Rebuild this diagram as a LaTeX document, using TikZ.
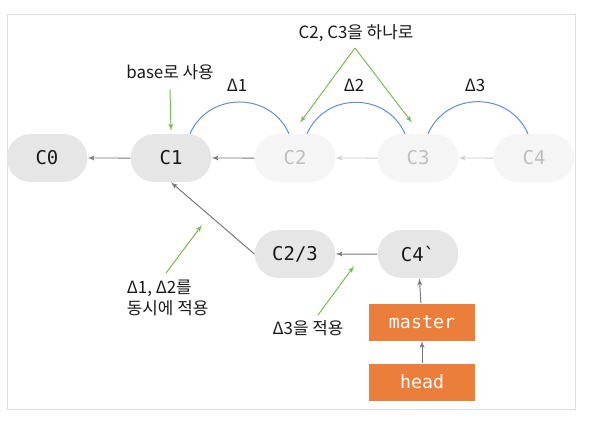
\documentclass[tikz,border=0pt]{standalone}
\usepackage{fontspec}
\setmainfont{Noto Sans CJK KR}
\setmonofont{DejaVu Sans Mono}
\usepackage{tikz}
\usetikzlibrary{shapes,arrows}
\definecolor{commitgray}{RGB}{230,230,230}
\definecolor{ghostgray}{RGB}{245,245,245}
\definecolor{ghosttext}{RGB}{190,190,190}
\definecolor{ghostline}{RGB}{205,205,205}
\definecolor{linegray}{RGB}{120,120,120}
\definecolor{deltablue}{RGB}{95,140,220}
\definecolor{notegreen}{RGB}{122,186,82}
\definecolor{branchorange}{RGB}{236,126,60}
\definecolor{framegray}{RGB}{222,222,222}
\tikzstyle{commit} = [rounded rectangle, minimum width=2.25cm, minimum height=1.2cm, fill=commitgray, text=black!90, font=\fontsize{13.5}{15}\selectfont\ttfamily]
\tikzstyle{ghost} = [commit, fill=ghostgray, text=ghosttext]
\tikzstyle{branch} = [rectangle, minimum width=2.65cm, minimum height=0.925cm, fill=branchorange, text=white, font=\fontsize{13}{15}\selectfont\ttfamily]
\tikzstyle{line} = [draw, -latex', linegray, line width=0.7pt]
\tikzstyle{fadeline} = [line, ghostline]
\tikzstyle{hint} = [draw, -latex', notegreen, line width=0.7pt]
\tikzstyle{delta} = [draw, deltablue, line width=0.7pt]
\tikzstyle{note} = [text=black!90, font=\fontsize{12}{14.5}\selectfont]

\begin{document}
\begin{tikzpicture}
        \useasboundingbox (0,0) rectangle (14.9,-10.525);
        \draw[framegray, line width=0.6pt] (0.175,-0.35) rectangle (14.375,-10.225);

        \node (C0) [commit] at (1.175,-3.95) {C0};
        \node (C1) [commit] at (4.275,-3.95) {C1};
        \node (C2) [ghost] at (7.375,-3.95) {C2};
        \node (C3) [ghost] at (10.45,-3.95) {C3};
        \node (C4) [ghost] at (13.35,-3.95) {C4};

        \draw[line] (C1) -- (C0);
        \draw[line] (C2) -- (C1);
        \draw[fadeline] (C3) -- (C2);
        \draw[fadeline] (C4) -- (C3);

        \node (C23) [commit] at (7.375,-6.35) {C2/3};
        \node (C4p) [commit] at (10.45,-6.35) {C4\textasciigrave};
        \node (master) [branch] at (10.55,-8.05) {master};
        \node (head) [branch] at (10.55,-9.55) {head};

        \draw[line] (C23.west) -- (C1.south);
        \draw[line] (C4p) -- (C23);
        \draw[line] (master) -- (C4p);
        \draw[line] (head) -- (master);

        % deltas between commits
        \draw[delta] ([xshift=0.475cm]C1.north) to[out=66, in=114, looseness=1.2] ([xshift=-0.15cm]C2.north);
        \draw[delta] ([xshift=0.3cm]C2.north) to[out=66, in=114, looseness=1.2] ([xshift=-0.325cm]C3.north);
        \draw[delta] ([xshift=0.25cm]C3.north) to[out=66, in=114, looseness=1.2] ([xshift=-0.15cm]C4.north);
        \node (d1) [note] at (5.925,-2.125) {Δ1};
        \node (d2) [note] at (8.85,-2.125) {Δ2};
        \node (d3) [note] at (11.875,-2.125) {Δ3};

        % notes
        \node (base) [note] at (4.25,-1.8) {base로 사용};
        \draw[hint] ([yshift=-0.12cm]base.south) -- ([yshift=0.075cm]C1.north);

        \node (merge) [note] at (8.9,-0.825) {C2, C3을 하나로};
        \coordinate (apex) at (8.875,-1.2);
        \draw[hint] (apex) -- ([xshift=0.125cm, yshift=0.275cm]C2.north);
        \draw[hint] (apex) -- ([xshift=-0.15cm, yshift=0.275cm]C3.north);

        \node (both) [note, align=left] at (4.19,-7.45) {Δ1, Δ2를\\동시에 적용};
        \coordinate (aim1) at (5.05,-5.625);
        \draw[hint] (4.15,-6.825) -- (aim1);

        \node (third) [note] at (7.7,-8.2) {Δ3을 적용};
        \coordinate (aim2) at (8.85,-6.65);
        \draw[hint] (7.95,-7.875) -- (aim2);

    \end{tikzpicture}
\end{document}
